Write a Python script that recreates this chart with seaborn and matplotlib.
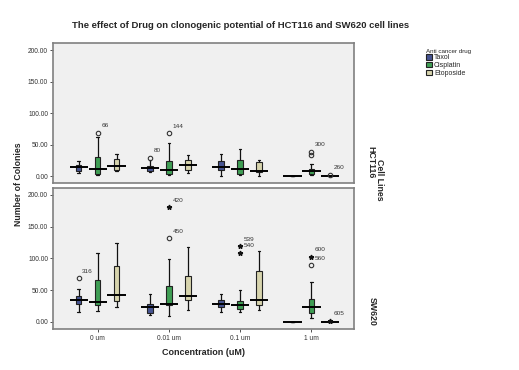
import numpy as np
import pandas as pd
import matplotlib
matplotlib.use("Agg")
import matplotlib.pyplot as plt
import seaborn as sns

concs = ['0 um', '0.01 um', '0.1 um', '1 um']
drugs = ['Taxol', 'Cisplatin', 'Etoposide']
cells = ['HCT116', 'SW620']
colors = ['#3A4C9E', '#2FAE4B', '#DEDAA6']

# representative observations per concentration (min, q1, median, q3, max)
hct116_taxol = [[5, 9, 14, 18, 24], [7, 9, 13, 17, 25], [0, 10, 14, 24, 36], [0, 0, 0, 0, 0]]
hct116_cisplatin = [[2, 3, 11, 30, 62], [2, 3, 10.5, 24, 52], [2.5, 3, 11.5, 26, 44], [2, 3, 7.5, 12, 19.5]]
hct116_etoposide = [[8, 10, 17, 28, 35], [5, 10, 18, 26, 34], [0, 6, 9, 23, 26], [0, 0, 0, 0, 0]]
sw620_taxol = [[15, 27.5, 34, 40.5, 52], [11.5, 13.3, 23, 29, 44], [15, 24, 29, 34, 44], [0, 0, 0, 0, 0]]
sw620_cisplatin = [[17, 26, 31.5, 66, 109], [9.5, 27, 28.5, 57, 99], [15, 20.5, 26, 33, 50.5], [6, 13.5, 23.5, 36.5, 63]]
sw620_etoposide = [[24, 33, 42.5, 88.5, 124], [18.5, 34, 40.5, 73, 118.5], [18.5, 26, 34, 80.5, 112.5], [0, 0, 0, 0, 0.8]]

# outlying cases (case number labels)
out_cell = ['HCT116', 'HCT116', 'HCT116', 'HCT116', 'HCT116', 'HCT116',
            'SW620', 'SW620', 'SW620', 'SW620', 'SW620', 'SW620', 'SW620', 'SW620']
out_conc = ['0 um', '0.01 um', '0.01 um', '1 um', '1 um', '1 um',
            '0 um', '0.01 um', '0.01 um', '0.1 um', '0.1 um', '1 um', '1 um', '1 um']
out_drug = ['Cisplatin', 'Taxol', 'Cisplatin', 'Cisplatin', 'Cisplatin', 'Etoposide',
            'Taxol', 'Cisplatin', 'Cisplatin', 'Cisplatin', 'Cisplatin', 'Cisplatin', 'Cisplatin', 'Etoposide']
out_value = [69, 29, 68, 39, 33, 2.5, 68.5, 131.5, 180.5, 119, 108.5, 102.5, 89, 2]
out_case = ['66', '80', '144', '300', '', '260', '316', '450', '420', '539', '540', '600', '560', '605']
out_extreme = [False, False, False, False, False, False, False, False, True, True, True, True, False, True]

groups = {
    ('HCT116', 'Taxol'): hct116_taxol, ('HCT116', 'Cisplatin'): hct116_cisplatin,
    ('HCT116', 'Etoposide'): hct116_etoposide, ('SW620', 'Taxol'): sw620_taxol,
    ('SW620', 'Cisplatin'): sw620_cisplatin, ('SW620', 'Etoposide'): sw620_etoposide,
}
rows = []
for (cell, drug), per_conc in groups.items():
    for conc, vals in zip(concs, per_conc):
        for v in vals:
            rows.append({'cell': cell, 'drug': drug, 'conc': conc, 'colonies': v})
df = pd.DataFrame(rows)
outl = pd.DataFrame({'cell': out_cell, 'conc': out_conc, 'drug': out_drug,
                     'colonies': out_value, 'case': out_case, 'extreme': out_extreme})

sns.set_style('white')
plt.rcParams['font.family'] = ['Liberation Sans', 'DejaVu Sans']

fig = plt.figure(figsize=(5.19, 3.70), dpi=100)
axes = [fig.add_axes([0.102, 0.505, 0.580, 0.378]),
        fig.add_axes([0.102, 0.111, 0.580, 0.381])]

step = 0.8 / len(drugs)
for ax, cell in zip(axes, cells):
    sub = df[df['cell'] == cell]
    sns.boxplot(data=sub, x='conc', y='colonies', hue='drug', order=concs, hue_order=drugs,
                palette=colors, width=0.8, gap=0.72, whis=1.5, showfliers=False,
                linewidth=0.8, linecolor='#222222', ax=ax,
                medianprops={'visible': False},
                whiskerprops={'color': '#111111', 'linewidth': 0.9},
                capprops={'color': '#111111', 'linewidth': 0.9})
    # SPSS-style wide median bars
    med = sub.groupby(['conc', 'drug'])['colonies'].median()
    for (conc, drug), m in med.items():
        xc = concs.index(conc) + (drugs.index(drug) - 1) * step
        ax.hlines(m, xc - 0.13, xc + 0.13, color='black', linewidth=1.4, zorder=5)
    # outliers
    o = outl[outl['cell'] == cell]
    for _, r in o.iterrows():
        xc = concs.index(r['conc']) + (drugs.index(r['drug']) - 1) * step
        if r['extreme']:
            ax.plot(xc, r['colonies'], marker='*', ms=3.5, color='#111111', zorder=6)
        else:
            ax.plot(xc, r['colonies'], marker='o', ms=3.2, mfc='none', mec='#333333',
                    mew=0.8, zorder=6)
        if r['case']:
            ax.annotate(r['case'], (xc, r['colonies']), xytext=(2.5, 4),
                        textcoords='offset points', fontsize=4.6, color='#333333')

    ax.set_facecolor('#F0F0F0')
    ax.set_xlim(-0.63, 3.6)
    ax.set_ylim(-11, 211)
    ax.set_yticks([0, 50, 100, 150, 200])
    ax.set_yticklabels([f'{t:.2f}' for t in [0, 50, 100, 150, 200]])
    ax.set_xlabel('')
    ax.set_ylabel('')
    ax.tick_params(axis='y', left=True, length=2.5, width=0.6, labelsize=4.8,
                   colors='#333333', pad=1)
    for s in ax.spines.values():
        s.set_color('#808080')
        s.set_linewidth(1.2)
    if ax.get_legend() is not None:
        handles, labels = ax.get_legend_handles_labels()
        ax.get_legend().remove()

axes[0].tick_params(axis='x', bottom=False, labelbottom=False)
axes[1].tick_params(axis='x', bottom=True, length=2.5, width=0.6, labelsize=4.8,
                    colors='#333333', pad=2)

fig.legend(handles, labels, title='Anti cancer drug', loc='upper left',
           bbox_to_anchor=(0.815, 0.878), frameon=False, fontsize=5,
           title_fontsize=4.5, handlelength=0.8, handleheight=0.8,
           handletextpad=0.3, labelspacing=0.1, borderpad=0, alignment='left')

fig.text(0.463, 0.93, 'The effect of Drug on clonogenic potential of HCT116 and SW620 cell lines',
         ha='center', va='center', fontsize=6.8, fontweight='bold')
fig.text(0.035, 0.503, 'Number of Colonies', rotation=90, ha='center', va='center',
         fontsize=6.3, fontweight='bold')
fig.text(0.392, 0.046, 'Concentration (uM)', ha='center', va='center',
         fontsize=6.5, fontweight='bold')
fig.text(0.714, 0.562, 'HCT116', rotation=270, ha='center', va='center',
         fontsize=6.3, fontweight='bold')
fig.text(0.732, 0.514, 'Cell Lines', rotation=270, ha='center', va='center',
         fontsize=6.3, fontweight='bold')
fig.text(0.717, 0.157, 'SW620', rotation=270, ha='center', va='center',
         fontsize=6.3, fontweight='bold')

fig.savefig('out.png', dpi=100)
